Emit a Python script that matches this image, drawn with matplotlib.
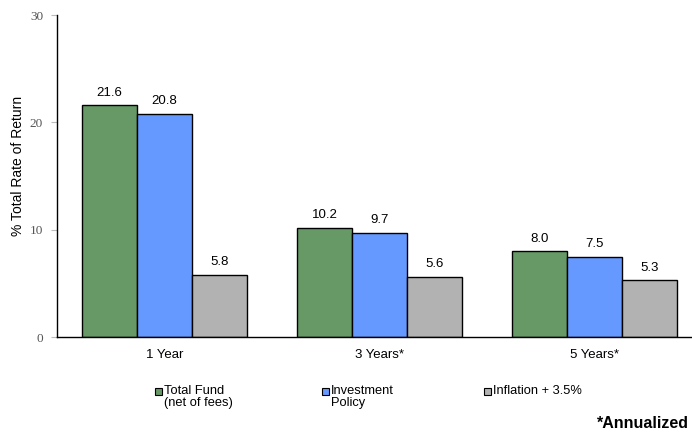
import matplotlib
matplotlib.use("Agg")
import matplotlib.pyplot as plt
from matplotlib.patches import Rectangle
import numpy as np

categories = ["1 Year", "3 Years*", "5 Years*"]
series_names = ["Total Fund\n(net of fees)", "Investment\nPolicy", "Inflation + 3.5%"]
total_fund = [21.6, 10.2, 8.0]
investment_policy = [20.8, 9.7, 7.5]
inflation = [5.8, 5.6, 5.3]
yticks = [0, 10, 20, 30]

colors = ["#669966", "#6699FF", "#B2B2B2"]
series = [total_fund, investment_policy, inflation]

W, H = 692, 433
fig = plt.figure(figsize=(W / 100, H / 100), dpi=100)
ax = fig.add_axes([57 / W, (H - 337) / H, 645 / W, 322 / H])

x = np.arange(len(categories))
bw = 55 / 215
for i, (vals, c) in enumerate(zip(series, colors)):
    pos = x + (i - 1) * bw
    ax.bar(pos, vals, width=bw, color=c, edgecolor="black", linewidth=1.0, zorder=2)
    for p, v in zip(pos, vals):
        ax.text(p, v + 0.6, f"{v:.1f}", ha="center", va="bottom",
                fontsize=9.5, family="Liberation Sans", color="black")

ax.set_xlim(-0.5, 2.5)
ax.set_ylim(0, 30)
ax.set_yticks(yticks)
ax.set_yticklabels([str(t) for t in yticks], family="Liberation Serif", fontsize=9.5, color="#555555")
ax.set_xticks(x)
ax.set_xticklabels(categories, family="Liberation Sans", fontsize=9.5)
ax.tick_params(axis="x", length=0, pad=9)
ax.tick_params(axis="y", length=4, width=0.8, direction="out", pad=6, color="#BBBBBB")
ax.set_ylabel("% Total Rate of Return", family="Liberation Sans", fontsize=10)
ax.yaxis.set_label_coords(-32 / 645, 0.53)
for s in ["top", "right"]:
    ax.spines[s].set_visible(False)
ax.spines["left"].set_linewidth(1.0)
ax.spines["bottom"].set_linewidth(1.0)

# legend (manual)
leg_x = [155, 322, 484]
leg_y = 391
sq = 7
for lx, c, name in zip(leg_x, colors, series_names):
    fig.patches.append(Rectangle(((lx) / W, (H - leg_y - sq / 2) / H), sq / W, sq / H,
                                 transform=fig.transFigure, facecolor=c,
                                 edgecolor="black", linewidth=0.8))
    fig.text((lx + sq + 2) / W, (H - leg_y + 6.5) / H, name, ha="left", va="top",
             fontsize=9.3, family="Liberation Sans", linespacing=1.1)

fig.text(689 / W, (H - 424) / H, "*Annualized", ha="right", va="center",
         fontsize=11.5, fontweight="bold", family="Liberation Sans")

fig.savefig("out.png", dpi=100)
